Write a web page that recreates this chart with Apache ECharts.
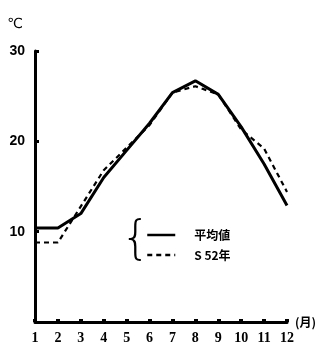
<!DOCTYPE html>
<html><head><meta charset="utf-8">
<script src="https://cdn.jsdelivr.net/npm/echarts@6/dist/echarts.min.js"></script>
<style>html,body{margin:0;padding:0;background:#fff}#c{width:326px;height:346px}</style>
</head><body><div id="c"></div>
<script>
const months = ['1','2','3','4','5','6','7','8','9','10','11','12'];
const avgTemp = [10.4, 10.4, 12.0, 16.0, 19.0, 22.0, 25.4, 26.7, 25.2, 21.6, 17.5, 12.9];
const s52Temp = [8.8, 8.8, 12.8, 16.8, 19.3, 21.8, 25.4, 26.1, 25.2, 21.3, 19.2, 14.4];
const yTicks = [0, 10, 20, 30];
const seriesNames = ['平均値', 'S 52年'];

const chart = echarts.init(document.getElementById('c'));
chart.setOption({
  animation: false,
  backgroundColor: '#fff',
  grid: {left: 35, right: 39, top: 51, bottom: 24},
  legend: {
    orient: 'vertical', left: 141, top: 224, itemGap: 8,
    itemWidth: 28, itemHeight: 10,
    itemStyle: {opacity: 0},
    lineStyle: {width: 2.5},
    textStyle: {color: '#000', fontSize: 12, fontWeight: 'bold', fontFamily: 'Noto Sans CJK JP', padding: [0, 0, 0, 14]},
    data: seriesNames
  },
  xAxis: {
    type: 'category', data: months, boundaryGap: false,
    axisLine: {lineStyle: {color: '#000', width: 3}},
    axisTick: {show: true, inside: true, length: 3, lineStyle: {color: '#000', width: 4}},
    axisLabel: {color: '#000', fontSize: 14, fontWeight: 'bold', fontFamily: 'Liberation Serif', margin: 9, interval: 0},
    name: '(月)', nameLocation: 'end', nameGap: 8,
    nameTextStyle: {color: '#000', fontSize: 12, fontWeight: 'bold', fontFamily: 'Noto Sans CJK JP', padding: [30, 0, 0, 0]}
  },
  yAxis: {
    type: 'value', min: yTicks[0], max: yTicks[yTicks.length - 1], interval: 10,
    axisLine: {show: true, lineStyle: {color: '#000', width: 3}},
    axisTick: {show: true, inside: true, length: 4, lineStyle: {color: '#000', width: 3}},
    splitLine: {show: false},
    axisLabel: {color: '#000', fontSize: 14, fontWeight: 'bold', fontFamily: 'Liberation Sans', margin: 10, showMinLabel: false},
    name: '℃', nameLocation: 'end', nameGap: 20,
    nameTextStyle: {color: '#000', fontSize: 14, fontFamily: 'DejaVu Sans', align: 'right', padding: [0, 12, 0, 0]}
  },
  graphic: [{
    type: 'text', left: 121, top: 218,
    style: {text: '{', fontSize: 46, fontFamily: 'DejaVu Sans', fontWeight: 200, fill: '#000'}
  }],
  series: [
    {name: seriesNames[0], type: 'line', data: avgTemp, symbol: 'none',
     lineStyle: {color: '#000', width: 3, type: 'solid'}, itemStyle: {color: '#000'}},
    {name: seriesNames[1], type: 'line', data: s52Temp, symbol: 'none',
     lineStyle: {color: '#000', width: 2.2, type: [5, 4]}, itemStyle: {color: '#000'}}
  ]
});
</script></body></html>
